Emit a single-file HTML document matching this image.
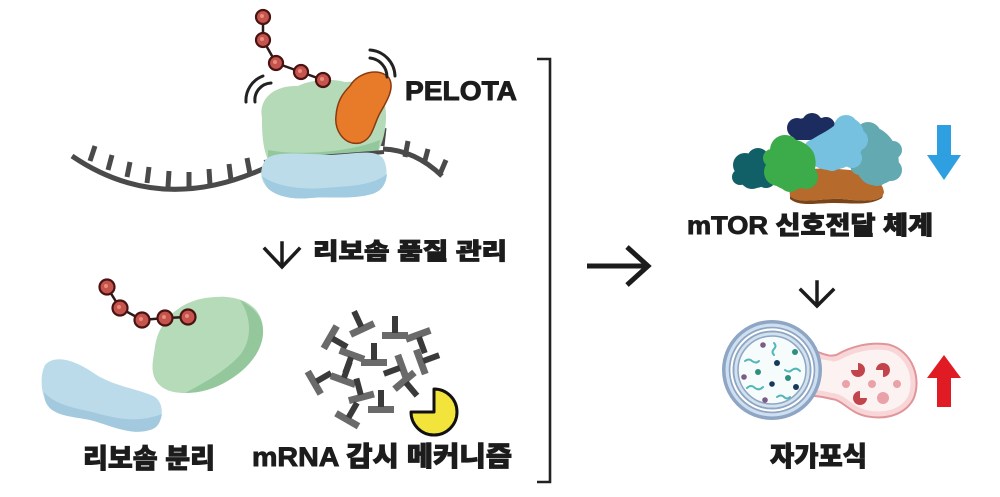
<!DOCTYPE html>
<html>
<head>
<meta charset="utf-8">
<style>
html,body{margin:0;padding:0;background:#fff;}
svg{display:block;}
.t{font-family:"Liberation Sans","Noto Sans CJK KR",sans-serif;font-weight:900;fill:#1c1c1c;stroke:#1c1c1c;stroke-width:0.9;}
</style>
</head>
<body>
<svg width="1000" height="497" viewBox="0 0 1000 497" xmlns="http://www.w3.org/2000/svg">
<rect width="1000" height="497" fill="#ffffff"/>

<!-- ============ TOP RIBOSOME ============ -->
<g stroke="#4a4a4a" stroke-linecap="butt" fill="none">
  <path d="M72,156 Q160,216 265,168" stroke-width="5"/>
  <path d="M383,149 Q415,150 442,176" stroke-width="5"/>
  <g stroke-width="5">
    <line x1="90" y1="161" x2="95" y2="146"/>
    <line x1="108" y1="170" x2="112" y2="155"/>
    <line x1="127" y1="177" x2="130" y2="162"/>
    <line x1="147" y1="183" x2="149" y2="167"/>
    <line x1="168" y1="187" x2="169" y2="171"/>
    <line x1="189" y1="188" x2="189" y2="172"/>
    <line x1="210" y1="185" x2="209" y2="169"/>
    <line x1="231" y1="180" x2="229" y2="164"/>
    <line x1="250" y1="174" x2="247" y2="158"/>
    <line x1="405" y1="157" x2="408" y2="141"/>
    <line x1="424" y1="164" x2="428" y2="149"/>
    <line x1="440" y1="174" x2="446" y2="160"/>
    <line x1="382" y1="146" x2="384" y2="128"/>
  </g>
</g>

<!-- green large subunit -->
<path d="M262,118 C258,98 275,85 298,86 C310,80 330,78 345,82 C365,80 383,88 385,105 C388,122 384,140 378,152 L268,160 C262,146 262,130 262,118 Z" fill="#b4dab8"/>
<path d="M268,150 C300,156 350,152 380,140 L378,152 L268,160 Z" fill="#93c89d"/>
<path d="M264,162 C295,158 340,156 384,152" stroke="#4a4a4a" stroke-width="4" fill="none"/>
<!-- blue small subunit -->
<path d="M264,162 C270,150 300,154 330,155 C355,154 378,148 384,160 C390,174 385,189 372,194 C350,200 330,196 310,198 C290,200 272,195 266,186 C260,179 260,170 264,162 Z" fill="#bcdcea"/>
<path d="M262,176 C275,186 300,190 325,188 C350,186 372,186 387,174 C386,184 382,191 372,194 C350,200 330,196 310,198 C290,200 272,195 266,186 Z" fill="#a0cbe0"/>

<!-- PELOTA orange -->
<path d="M350,86 C358,72 380,67 389,78 C395,88 387,101 380,113 C373,126 373,139 360,143 C345,146 334,131 336,116 C337,101 343,93 350,86 Z" fill="#e87b2a" stroke="#8a3a10" stroke-width="1.5"/>

<!-- motion arcs -->
<g stroke="#222" stroke-width="3" fill="none" stroke-linecap="round">
  <path d="M246,102 A26,26 0 0 1 263,76"/>
  <path d="M255,102 A17,17 0 0 1 271,83"/>
  <path d="M370,50 A27,27 0 0 1 395,76"/>
  <path d="M370,58 A19,19 0 0 1 387,77"/>
</g>

<!-- peptide chain top -->
<g>
  <polyline points="263,17 263,40 276,63 301,72 323,80" stroke="#2a1a1a" stroke-width="2.5" fill="none"/>
  <g fill="#c4544c" stroke="#4a1212" stroke-width="2.2">
    <circle cx="263" cy="17" r="7"/>
    <circle cx="263" cy="40" r="7"/>
    <circle cx="276" cy="63" r="7"/>
    <circle cx="301" cy="72" r="7"/>
    <circle cx="323" cy="80" r="7"/>
  </g>
  <g fill="#e88c7e">
    <circle cx="262" cy="16" r="2"/><circle cx="262" cy="39" r="2"/><circle cx="275" cy="62" r="2"/><circle cx="300" cy="71" r="2"/><circle cx="322" cy="79" r="2"/>
  </g>
</g>

<text class="t" x="405" y="100" font-size="27" textLength="112" lengthAdjust="spacingAndGlyphs">PELOTA</text>

<!-- down arrow left -->
<g stroke="#1c1c1c" stroke-width="3.5" fill="none" stroke-linecap="square">
  <line x1="282" y1="243" x2="282" y2="266"/>
  <polyline points="265,249 282,267 299,249"/>
</g>
<text class="t" x="313" y="259" font-size="23" textLength="194" lengthAdjust="spacingAndGlyphs">리보솜 품질 관리</text>

<!-- ============ BOTTOM LEFT ============ -->
<path d="M45,365 C55,354 75,360 95,374 C115,387 140,389 155,397 C166,405 163,425 150,430 C130,436 110,425 90,420 C70,416 50,416 45,400 C41,390 40,375 45,365 Z" fill="#bcdbea"/>
<path d="M44,392 C55,405 75,408 92,412 C115,418 135,424 162,414 C160,424 157,428 150,430 C130,436 110,425 90,420 C70,416 50,416 45,400 Z" fill="#a2c9de"/>
<path d="M160,330 C170,310 190,298 215,297 C240,295 258,305 262,322 C266,340 255,360 240,372 C225,385 205,393 185,393 C160,393 150,380 153,360 C155,348 155,340 160,330 Z" fill="#b6dbb9"/>
<path d="M240,300 C255,308 263,318 263,330 C264,345 254,362 238,374 C222,386 205,393 185,393 C200,385 225,372 240,355 C252,340 252,318 240,300 Z" fill="#94c89c"/>

<g>
  <polyline points="107,287 120,308 142,320 165,318 188,317" stroke="#2a1a1a" stroke-width="2.5" fill="none"/>
  <g fill="#c4544c" stroke="#4a1212" stroke-width="2.2">
    <circle cx="107" cy="287" r="7.5"/>
    <circle cx="120" cy="308" r="7.5"/>
    <circle cx="142" cy="320" r="7.5"/>
    <circle cx="165" cy="318" r="7.5"/>
    <circle cx="188" cy="317" r="7.5"/>
  </g>
  <g fill="#e88c7e">
    <circle cx="106" cy="286" r="2"/><circle cx="119" cy="307" r="2"/><circle cx="141" cy="319" r="2"/><circle cx="164" cy="317" r="2"/><circle cx="187" cy="316" r="2"/>
  </g>
</g>

<!-- scattered nucleotides -->
<defs>
  <g id="tt">
    <rect x="-13" y="2" width="26" height="7" fill="#6a6a6a"/>
    <rect x="-3" y="-14" width="6" height="17" fill="#3a3a3a"/>
  </g>
</defs>
<use href="#tt" transform="translate(335,340) rotate(120)"/>
<use href="#tt" transform="translate(360,324) rotate(-25)"/>
<use href="#tt" transform="translate(395,330) rotate(0)"/>
<use href="#tt" transform="translate(420,340) rotate(160)"/>
<use href="#tt" transform="translate(350,360) rotate(200)"/>
<use href="#tt" transform="translate(374,357) rotate(0)"/>
<use href="#tt" transform="translate(397,369) rotate(-110)"/>
<use href="#tt" transform="translate(426,360) rotate(70)"/>
<use href="#tt" transform="translate(319,380) rotate(60)"/>
<use href="#tt" transform="translate(345,375) rotate(20)"/>
<use href="#tt" transform="translate(360,392) rotate(-15)"/>
<use href="#tt" transform="translate(408,385) rotate(140)"/>
<use href="#tt" transform="translate(350,415) rotate(30)"/>
<use href="#tt" transform="translate(381,404) rotate(0)"/>

<!-- yellow pacman -->
<path d="M434,412 L434,389 A23,23 0 1 1 411,412 Z" fill="#f2e43a" stroke="#111" stroke-width="3" stroke-linejoin="round"/>

<text class="t" x="83" y="468" font-size="27" textLength="132" lengthAdjust="spacingAndGlyphs">리보솜 분리</text>
<text class="t" x="252" y="466" font-size="27" textLength="260" lengthAdjust="spacingAndGlyphs">mRNA 감시 메커니즘</text>

<!-- bracket -->
<path d="M537,59 H550 V482 H537" stroke="#222" stroke-width="2.6" fill="none"/>

<!-- right arrow -->
<g stroke="#1c1c1c" stroke-width="5" fill="none">
  <line x1="587" y1="266" x2="648" y2="266"/>
  <polyline points="627,247 648,266 627,285"/>
</g>

<!-- ============ mTOR ============ -->
<g>
  <path d="M788,178 C798,166 830,168 850,170 C866,172 882,178 884,192 C882,203 862,201 842,199 C820,198 800,205 790,196 Z" fill="#b66a2c"/>
  <path d="M790,196 C800,205 820,198 842,199 C862,201 882,203 884,192 L882,198 C870,206 850,203 835,203 C815,203 800,207 790,199 Z" fill="#7a4418"/>
  <path d="M858,128 C875,120 895,135 898,155 C902,175 890,186 872,185 C858,183 852,165 855,145 Z" fill="#63a9b2"/>
  <g fill="#63a9b2">
    <circle cx="868" cy="135" r="13"/><circle cx="880" cy="153" r="16"/><circle cx="877" cy="174" r="12"/>
    <circle cx="891" cy="170" r="11"/><circle cx="860" cy="165" r="10"/><circle cx="893" cy="150" r="9"/>
  </g>
  <path d="M788,128 C795,116 815,115 830,120 C838,124 838,138 828,140 L795,140 Z" fill="#1d2c5f"/>
  <g fill="#1d2c5f">
    <circle cx="797" cy="128" r="10"/><circle cx="812" cy="123" r="10"/><circle cx="826" cy="126" r="9"/>
  </g>
  <path d="M805,145 C815,135 830,132 840,120 C852,114 866,122 864,140 C862,158 850,170 830,170 C815,170 803,160 805,145 Z" fill="#76c1df"/>
  <g fill="#76c1df">
    <circle cx="846" cy="127" r="12"/><circle cx="838" cy="145" r="14"/><circle cx="815" cy="151" r="12"/>
    <circle cx="826" cy="150" r="12"/><circle cx="857" cy="140" r="11"/><circle cx="852" cy="158" r="10"/>
    <circle cx="832" cy="162" r="9"/>
  </g>
  <path d="M736,165 C740,152 760,150 770,160 C775,172 770,188 755,188 C740,188 733,178 736,165 Z" fill="#126067"/>
  <g fill="#126067">
    <circle cx="745" cy="165" r="12"/><circle cx="758" cy="159" r="11"/><circle cx="752" cy="177" r="12"/>
    <circle cx="766" cy="178" r="10"/><circle cx="740" cy="177" r="8"/>
  </g>
  <path d="M770,150 C778,136 800,135 812,150 C820,162 815,185 795,190 C778,192 765,180 768,165 Z" fill="#3cab49"/>
  <g fill="#3cab49">
    <circle cx="785" cy="150" r="15"/><circle cx="800" cy="160" r="15"/><circle cx="778" cy="172" r="14"/>
    <circle cx="806" cy="177" r="12"/><circle cx="790" cy="181" r="11"/><circle cx="772" cy="158" r="9"/>
  </g>
</g>
<path d="M937,125 H951 V155 H961 L944,180 L927,155 H937 Z" fill="#2e9fe0"/>

<text class="t" x="687" y="234" font-size="25" textLength="246" lengthAdjust="spacingAndGlyphs">mTOR 신호전달 체계</text>

<g stroke="#1c1c1c" stroke-width="3.5" fill="none" stroke-linecap="square">
  <line x1="817" y1="282" x2="817" y2="305"/>
  <polyline points="801,290 817,306 833,290"/>
</g>

<!-- ============ AUTOPHAGY ============ -->
<path d="M805,352 C818,354 826,362 838,358 C852,350 870,345 888,348 C910,354 918,380 910,398 C902,412 885,416 868,413 C852,410 845,398 835,396 C825,394 818,392 805,392 Z" fill="#fdf2f2" stroke="#e0959a" stroke-width="9"/>
<path d="M805,352 C818,354 826,362 838,358 C852,350 870,345 888,348 C910,354 918,380 910,398 C902,412 885,416 868,413 C852,410 845,398 835,396 C825,394 818,392 805,392 Z" fill="#fdf2f2" stroke="#f8d6d7" stroke-width="5"/>
<path d="M812,358 L832,361 L832,393 L812,388 Z" fill="#fdf2f2"/>

<circle cx="772" cy="370" r="48" fill="#ffffff" stroke="#8ea6c4" stroke-width="4"/>
<circle cx="772" cy="370" r="45" fill="none" stroke="#cddff0" stroke-width="3"/>
<circle cx="772" cy="370" r="42.5" fill="none" stroke="#8ea6c4" stroke-width="1.8"/>
<circle cx="772" cy="370" r="38.5" fill="#f6fbfc" stroke="#8ea6c4" stroke-width="2"/>
<circle cx="772" cy="370" r="36" fill="none" stroke="#d2e2ef" stroke-width="3"/>
<circle cx="772" cy="370" r="34" fill="#f6fbfc" stroke="#8ea6c4" stroke-width="1.5"/>

<g fill="#7d5b86">
  <circle cx="763" cy="345" r="2.8"/><circle cx="744" cy="377" r="2.8"/><circle cx="765" cy="400" r="2.8"/>
</g>
<g fill="#2f8f7e">
  <circle cx="795" cy="352" r="3"/><circle cx="758" cy="372" r="3"/><circle cx="788" cy="378" r="3"/>
</g>
<g fill="#163a5c">
  <circle cx="777" cy="363" r="3"/><circle cx="772" cy="384" r="2.8"/><circle cx="796" cy="387" r="3"/>
</g>
<g stroke="#52b7b9" stroke-width="2" fill="none" stroke-linecap="round">
  <path d="M774,343 q3,3 0,6 q-3,3 0,6"/>
  <path d="M745,361 q4,-3 7,0 q4,3 7,0"/>
  <path d="M785,370 q4,3 7,0 q4,-3 8,1"/>
  <path d="M747,388 q4,-4 8,0 q4,3 8,-1"/>
  <path d="M777,397 q4,-3 7,0 q3,3 6,0"/>
</g>

<g fill="#c2454b">
  <path d="M858,370 m0,-7 a7,7 0 1 1 -7,7 l7,0 z"/>
  <path d="M883,370 m-7,0 a7,7 0 1 1 7,7 l0,-7 z"/>
  <path d="M860,398 m7,0 a7,7 0 1 1 -7,-7 l0,7 z"/>
</g>
<g fill="#e9a2a7">
  <circle cx="872" cy="384" r="4"/><circle cx="897" cy="384" r="4"/><circle cx="883" cy="398" r="6"/><circle cx="846" cy="384" r="4"/>
</g>

<path d="M944,355 L961,378 H951 V407 H937 V378 H927 Z" fill="#e01b24"/>

<text class="t" x="770" y="466" font-size="27" textLength="97" lengthAdjust="spacingAndGlyphs">자가포식</text>
</svg>
</body>
</html>
